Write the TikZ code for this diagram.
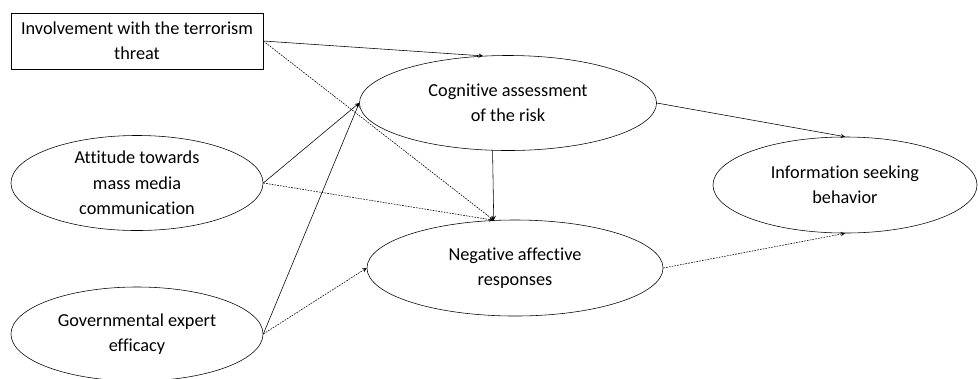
\documentclass[tikz,border=0pt]{standalone}
\usepackage{fontspec}
\setmainfont[Ligatures=NoCommon]{Carlito}
\usetikzlibrary{shapes.geometric}

\begin{document}
\begin{tikzpicture}[x=0.025cm,y=-0.025cm,>=stealth,
  var/.style={ellipse,draw,thin,inner sep=0pt,align=center,font=\fontsize{13}{18}\selectfont},
  weak/.style={->,thin,dash pattern=on 1.2pt off 0.8pt}]
\useasboundingbox (0,0) rectangle (978,378);
\node[draw,thin,minimum width=6.3cm,minimum height=1.4cm,align=center,font=\fontsize{13}{18}\selectfont] (inv) at (137,41) {Involvement with the terrorism\\threat};
\node[var,minimum width=6.3cm,minimum height=2.375cm] (att) at (137,183) {Attitude towards\\mass media\\communication};
\node[var,minimum width=6.3cm,minimum height=2.35cm] (gov) at (137,334) {Governmental expert\\efficacy};
\node[var,minimum width=7.425cm,minimum height=2.375cm] (cog) at (508,103) {Cognitive assessment\\of the risk};
\node[var,minimum width=7.4cm,minimum height=2.4cm] (neg) at (515,268) {Negative affective\\responses};
\node[var,minimum width=6.6cm,minimum height=2.4cm] (info) at (845,185) {Information seeking\\behavior};
% paths
\draw[->,thin] (inv.east) -- (cog.118);
\draw[weak] (inv.east) -- (neg.114);
\draw[->,thin] (att.east) -- (cog.west);
\draw[weak] (att.east) -- (neg.114);
\draw[->,thin] (gov.east) -- (cog.west);
\draw[weak] (gov.east) -- (neg.west);
\draw[->,thin] (cog.252) -- (neg.114);
\draw[->,thin] (cog.east) -- (info.north);
\draw[weak] (neg.east) -- (info.south);
\end{tikzpicture}
\end{document}
